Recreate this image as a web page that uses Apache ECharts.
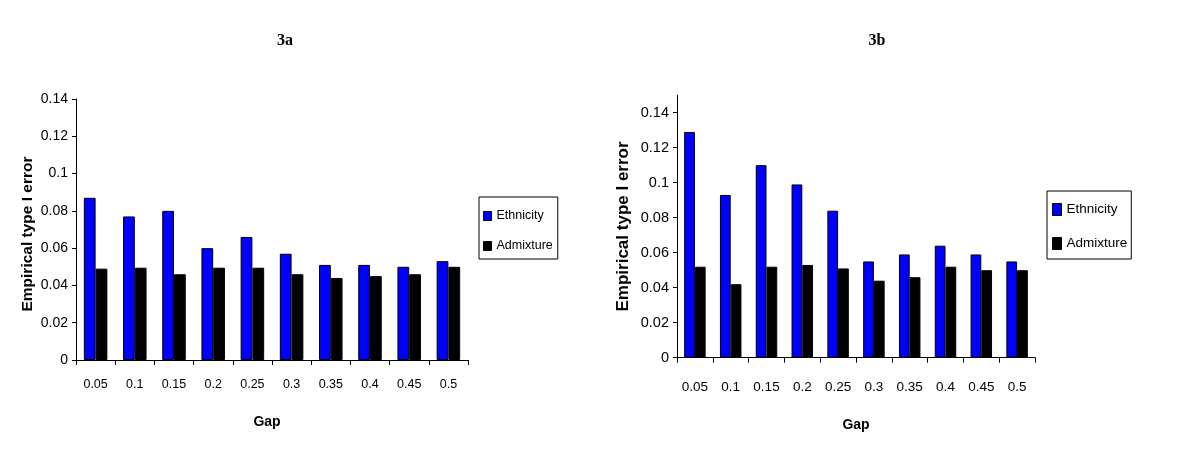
<!DOCTYPE html>
<html>
<head>
<meta charset="utf-8">
<script src="https://cdn.jsdelivr.net/npm/echarts@6/dist/echarts.min.js"></script>
<style>html,body{margin:0;padding:0;background:#fff}#c{width:1200px;height:457px}</style>
</head>
<body>
<div id="c"></div>
<script>
const categories = ['0.05','0.1','0.15','0.2','0.25','0.3','0.35','0.4','0.45','0.5'];
const seriesNames = ['Ethnicity','Admixture'];
const ethnicityA = [0.087,0.077,0.080,0.060,0.066,0.057,0.051,0.051,0.050,0.053];
const admixtureA = [0.049,0.0495,0.046,0.0495,0.0495,0.046,0.044,0.045,0.046,0.050];
const ethnicityB = [0.129,0.093,0.110,0.099,0.084,0.055,0.059,0.064,0.059,0.055];
const admixtureB = [0.052,0.042,0.052,0.053,0.051,0.044,0.046,0.052,0.050,0.050];
const yTicks = [0,0.02,0.04,0.06,0.08,0.1,0.12,0.14];
const titles = ['3a','3b'];
const xName = 'Gap';
const yName = 'Empirical type I error';

const NARROW = "'Liberation Sans Narrow','Arial Narrow','Liberation Sans',Arial,sans-serif";
const SANS = "'Liberation Sans',Arial,sans-serif";
const chart = echarts.init(document.getElementById('c'), null, {renderer:'canvas'});

function xAxis(gi, margin, nameGap, fs, pad){
  return {
    type:'category', gridIndex:gi, data:categories,
    axisLine:{lineStyle:{color:'#000',width:1}},
    axisTick:{show:true,length:5,lineStyle:{color:'#000'}},
    axisLabel:{color:'#000',fontFamily:NARROW,fontSize:fs,margin:margin,interval:0},
    name:xName, nameLocation:'middle', nameGap:nameGap,
    nameTextStyle:{color:'#000',fontFamily:SANS,fontWeight:'bold',fontSize:14,padding:pad}
  };
}
function yAxis(gi, max, nameGap, nfs, fs, pad){
  return {
    type:'value', gridIndex:gi, min:0, max:max, interval:0.02,
    splitLine:{show:false},
    axisLine:{show:true,lineStyle:{color:'#000',width:1}},
    axisTick:{show:true,length:4,lineStyle:{color:'#000'},customValues:yTicks},
    axisLabel:{color:'#000',fontFamily:NARROW,fontSize:fs,margin:8,customValues:yTicks},
    name:yName, nameLocation:'middle', nameGap:nameGap,
    nameTextStyle:{color:'#000',fontFamily:SANS,fontWeight:'bold',fontSize:nfs,padding:pad}
  };
}
function bar(name, data, gi, color){
  return {
    type:'bar', name:name, data:data, xAxisIndex:gi, yAxisIndex:gi,
    barGap:'0%', barCategoryGap:'40%',
    itemStyle:{color:color,borderColor:'#000',borderWidth:1},
    emphasis:{disabled:true}, animation:false
  };
}
const blue = '#0000ff', black = '#000000';

chart.setOption({
  animation:false,
  title:[
    {text:titles[0], left:280, top:28, textAlign:'center', textStyle:{fontFamily:"'Liberation Serif','Times New Roman',serif",fontWeight:'bold',fontSize:16,color:'#000'}},
    {text:titles[1], left:872, top:28, textAlign:'center', textStyle:{fontFamily:"'Liberation Serif','Times New Roman',serif",fontWeight:'bold',fontSize:16,color:'#000'}}
  ],
  grid:[
    {left:76, right:732, top:99, bottom:97},
    {left:677, right:165, top:95.2, bottom:99.3}
  ],
  legend:[
    {data:seriesNames, orient:'vertical', left:479, top:197, itemWidth:8, itemHeight:9, itemGap:14, icon:'rect',
     borderColor:'#000', borderWidth:1, padding:[11,5,5,4], selectedMode:false,
     textStyle:{fontFamily:NARROW,fontSize:12.5,color:'#000',lineHeight:16},
     itemStyle:{borderColor:'#000',borderWidth:1}},
    {data:seriesNames, orient:'vertical', left:1047, top:191, itemWidth:9, itemHeight:12, itemGap:17, icon:'rect',
     borderColor:'#000', borderWidth:1, padding:[10,4,7,5], selectedMode:false,
     textStyle:{fontFamily:NARROW,fontSize:13.5,color:'#000',lineHeight:17},
     itemStyle:{borderColor:'#000',borderWidth:1}}
  ],
  xAxis:[xAxis(0,18,55,12.5,[0,10,0,0]), xAxis(1,23,60,13.5,[0,0,0,0])],
  yAxis:[yAxis(0,0.14,40,15.5,14,[0,9,0,0]), yAxis(1,0.15,45,17,14.5,[0,0,0,0])],
  series:[
    bar(seriesNames[0], ethnicityA, 0, blue),
    bar(seriesNames[1], admixtureA, 0, black),
    bar(seriesNames[0], ethnicityB, 1, blue),
    bar(seriesNames[1], admixtureB, 1, black)
  ]
});
</script>
</body>
</html>
